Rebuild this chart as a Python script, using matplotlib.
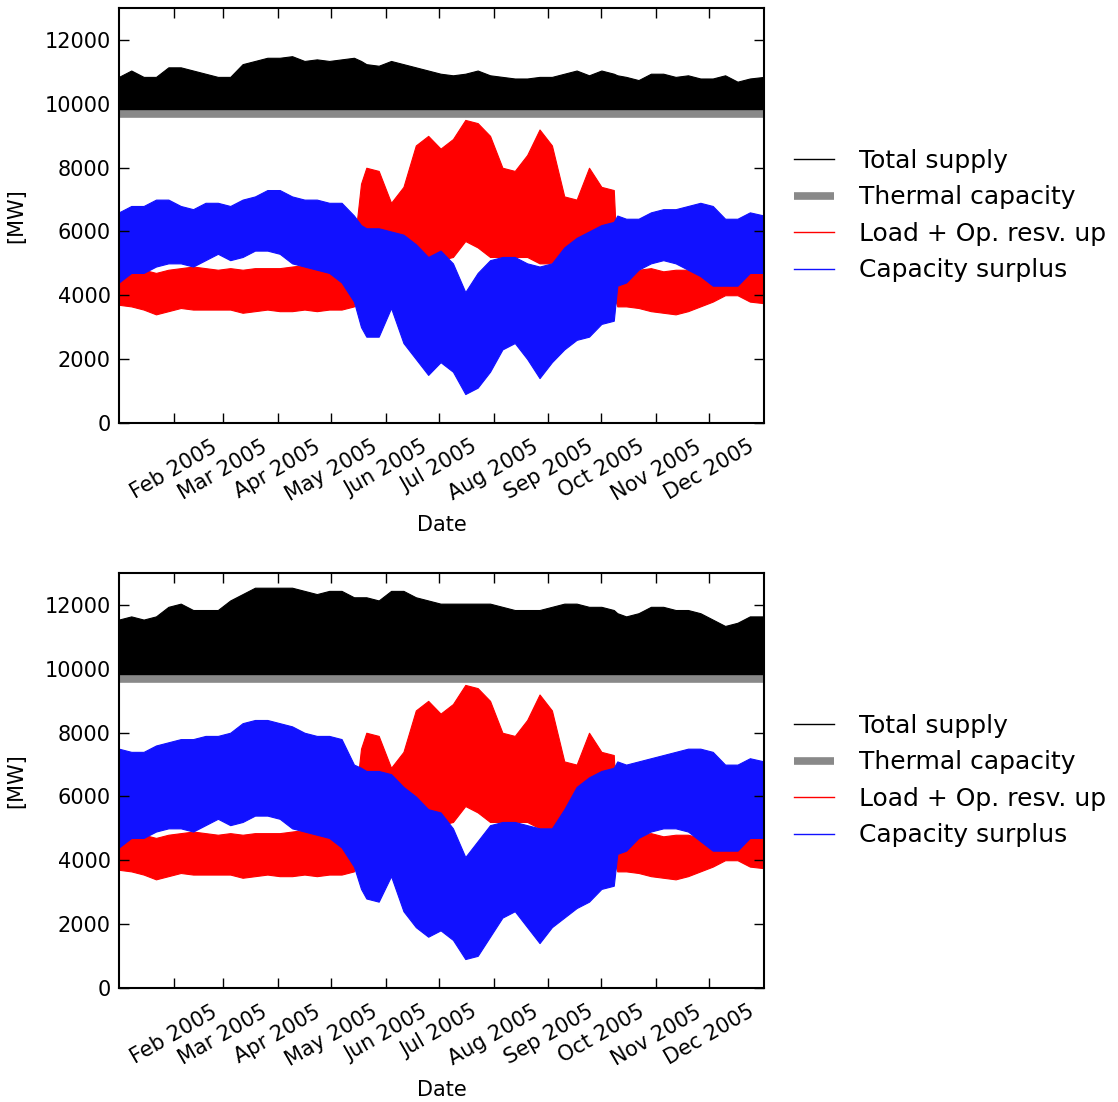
import numpy as np
import pandas as pd
import matplotlib
matplotlib.use('Agg')
import matplotlib.pyplot as plt
import matplotlib.dates as mdates
from matplotlib.lines import Line2D

plt.rcParams['font.family'] = 'DejaVu Sans'

# day of year of each envelope knot
days = [0, 7, 14, 21, 28, 35, 42, 49, 56, 63, 70, 77, 84, 91, 98, 105, 112, 119, 126, 133,
        137,
        140, 147, 154, 161, 168, 175, 182, 189, 196, 203, 210, 217, 224, 231, 238, 245, 252, 259, 266, 273, 280,
        282,
        287, 294, 301, 308, 315, 322, 329, 336, 343, 350, 357, 365]

thermal_capacity = 9700

# load + operating reserve up (same in both panels)
load_hi = [5000, 4900, 4800, 4700, 4800, 4850, 4900, 4850, 4800, 4850, 4800, 4850, 4850, 4850, 4900, 4950, 4900, 4950, 4950, 5500,
           7500,
           8000, 7900, 6900, 7400, 8700, 9000, 8600, 8900, 9500, 9400, 9000, 8000, 7900, 8400, 9200, 8700, 7100, 7000, 8000, 7400, 7300,
           5000,
           4900, 4800, 4850, 4750, 4800, 4800, 4700, 4600, 4600, 4700, 4900, 5000]
load_lo = [3700, 3650, 3550, 3400, 3500, 3600, 3550, 3550, 3550, 3550, 3450, 3500, 3550, 3500, 3500, 3550, 3500, 3550, 3550, 3650,
           4500,
           5000, 5000, 4800, 5000, 5200, 5200, 5100, 5200, 5700, 5500, 5200, 5200, 5200, 5200, 5000, 5000, 4800, 4600, 4400, 4200, 4000,
           3650,
           3650, 3600, 3500, 3450, 3400, 3500, 3650, 3800, 4000, 4000, 3800, 3750]

# top panel
supply_hi_1 = [10850, 11050, 10850, 10850, 11150, 11150, 11050, 10950, 10850, 10850, 11250, 11350, 11450, 11450, 11500, 11350, 11400, 11350, 11400, 11450,
               11350,
               11250, 11200, 11350, 11250, 11150, 11050, 10950, 10900, 10950, 11050, 10900, 10850, 10800, 10800, 10850, 10850, 10950, 11050, 10900, 11050, 10950,
               10900,
               10850, 10750, 10950, 10950, 10850, 10900, 10800, 10800, 10900, 10700, 10800, 10850]
surplus_hi_1 = [6600, 6800, 6800, 7000, 7000, 6800, 6700, 6900, 6900, 6800, 7000, 7100, 7300, 7300, 7100, 7000, 7000, 6900, 6900, 6500,
                6200,
                6100, 6100, 6000, 5900, 5600, 5200, 5400, 5000, 4100, 4700, 5100, 5200, 5200, 5000, 4900, 5000, 5500, 5800, 6000, 6200, 6300,
                6500,
                6400, 6400, 6600, 6700, 6700, 6800, 6900, 6800, 6400, 6400, 6600, 6500]
surplus_lo_1 = [4400, 4700, 4700, 4900, 5000, 5000, 4900, 5100, 5300, 5100, 5200, 5400, 5400, 5300, 5000, 4900, 4800, 4700, 4400, 3800,
                3000,
                2700, 2700, 3600, 2500, 2000, 1500, 1900, 1600, 900, 1100, 1600, 2300, 2500, 2000, 1400, 1900, 2300, 2600, 2700, 3100, 3200,
                4300,
                4400, 4800, 5000, 5100, 5000, 4800, 4600, 4300, 4300, 4300, 4700, 4700]

# bottom panel
supply_hi_2 = [11550, 11650, 11550, 11650, 11950, 12050, 11850, 11850, 11850, 12150, 12350, 12550, 12550, 12550, 12550, 12450, 12350, 12450, 12450, 12250,
               12250,
               12250, 12150, 12450, 12450, 12250, 12150, 12050, 12050, 12050, 12050, 12050, 11950, 11850, 11850, 11850, 11950, 12050, 12050, 11950, 11950, 11850,
               11750,
               11650, 11750, 11950, 11950, 11850, 11850, 11750, 11550, 11350, 11450, 11650, 11650]
surplus_hi_2 = [7500, 7400, 7400, 7600, 7700, 7800, 7800, 7900, 7900, 8000, 8300, 8400, 8400, 8300, 8200, 8000, 7900, 7900, 7800, 7000,
                6900,
                6800, 6800, 6700, 6300, 6000, 5600, 5500, 5000, 4100, 4600, 5100, 5200, 5200, 5100, 5000, 5000, 5600, 6300, 6600, 6800, 6900,
                7100,
                7000, 7100, 7200, 7300, 7400, 7500, 7500, 7400, 7000, 7000, 7200, 7100]
surplus_lo_2 = [4400, 4700, 4700, 4900, 5000, 5000, 4900, 5100, 5300, 5100, 5200, 5400, 5400, 5300, 5000, 4900, 4800, 4700, 4400, 3800,
                3100,
                2800, 2700, 3500, 2400, 1900, 1600, 1800, 1500, 900, 1000, 1600, 2200, 2400, 1900, 1400, 1900, 2200, 2500, 2700, 3100, 3200,
                4200,
                4300, 4700, 4900, 5000, 5000, 4900, 4600, 4300, 4300, 4300, 4700, 4700]

start = pd.Timestamp('2005-01-01')
dates = start + pd.to_timedelta(days, unit='D')

BLUE = '#1111ff'
GREY = '#898989'
FS = 15


def plot_panel(ax, supply_hi, surplus_hi, surplus_lo):
    thermal = np.full(len(dates), thermal_capacity)
    ax.fill_between(dates, thermal, supply_hi, color='k', lw=0.8)
    ax.plot(dates, thermal, color=GREY, lw=5.5, solid_capstyle='butt')
    ax.fill_between(dates, load_lo, load_hi, color='r', lw=0.8)
    ax.fill_between(dates, surplus_lo, surplus_hi, color=BLUE, lw=0.8)

    ax.set_xlim(start + pd.Timedelta(hours=1), start + pd.Timedelta(days=365) - pd.Timedelta(hours=1))
    ax.set_ylim(0, 13000)
    ax.set_yticks(range(0, 12001, 2000))
    ax.xaxis.set_major_locator(mdates.MonthLocator())
    ax.xaxis.set_major_formatter(mdates.DateFormatter('%b %Y'))
    ax.tick_params(direction='in', length=7, width=1, top=True, right=True, labelsize=FS, pad=6)
    ax.tick_params(axis='x', pad=10)
    for lab in ax.get_xticklabels():
        lab.set_rotation(30)
        lab.set_ha('center')
    for sp in ax.spines.values():
        sp.set_linewidth(1.5)
    ax.set_ylabel('[MW]', fontsize=FS, labelpad=13)
    ax.set_xlabel('Date', fontsize=FS, labelpad=7)

    handles = [Line2D([], [], color='k', lw=1),
               Line2D([], [], color=GREY, lw=5.5, solid_capstyle='butt'),
               Line2D([], [], color='r', lw=1),
               Line2D([], [], color=BLUE, lw=1)]
    labels = ['Total supply', 'Thermal capacity', 'Load + Op. resv. up', 'Capacity surplus']
    ax.legend(handles, labels, loc='center left', bbox_to_anchor=(1.0, 0.5), frameon=False,
              fontsize=18, borderaxespad=0.8, handlelength=1.6, handletextpad=1.0)


fig = plt.figure(figsize=(11.18, 11.02), dpi=100)
ax1 = fig.add_axes([0.1064, 0.6164, 0.5769, 0.3760])
ax2 = fig.add_axes([0.1064, 0.1037, 0.5769, 0.3760])

plot_panel(ax1, supply_hi_1, surplus_hi_1, surplus_lo_1)
plot_panel(ax2, supply_hi_2, surplus_hi_2, surplus_lo_2)

fig.savefig('out.png', dpi=100)
